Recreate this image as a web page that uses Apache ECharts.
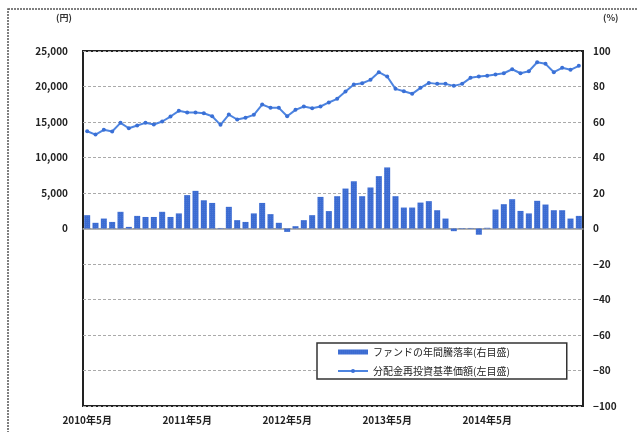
<!DOCTYPE html>
<html>
<head>
<meta charset="utf-8">
<script src="https://cdn.jsdelivr.net/npm/echarts@6/dist/echarts.min.js"></script>
<style>
html, body { margin: 0; padding: 0; background: #fff; }
#chart { width: 637px; height: 432px; }
</style>
</head>
<body>
<div id="chart"></div>
<script>
// 2010年5月 ～ 2015年4月 (60ヶ月)
const months = [];
for (let i = 0; i < 60; i++) {
    const m = 4 + i;
    months.push(`${2010 + Math.floor(m / 12)}年${(m % 12) + 1}月`);
}

// 分配金再投資基準価額 (円, 左目盛)
const nav = [
    13700, 13230, 13900, 13660, 14880, 14120, 14500, 14880, 14640, 15070,
    15770, 16570, 16330, 16330, 16230, 15810, 14600, 16050, 15350, 15590,
    16010, 17460, 16990, 16990, 15810, 16710, 17180, 16940, 17180, 17750,
    18260, 19290, 20280, 20460, 20940, 22010, 21400, 19670, 19330, 18970,
    19810, 20510, 20370, 20370, 20090, 20370, 21220, 21400, 21500, 21680,
    21870, 22430, 21870, 22150, 23420, 23190, 22010, 22630, 22350, 22910
];

// ファンドの年間騰落率 (%, 右目盛)
const annualReturn = [
    7.5, 3.2, 5.6, 3.7, 9.4, 0.9, 7.1, 6.5, 6.5, 9.4,
    6.5, 8.5, 18.8, 21.2, 15.9, 14.4, 0.3, 12.2, 4.7, 3.7,
    8.5, 14.4, 8.1, 3.2, -1.9, 1.3, 4.7, 7.5, 17.8, 9.8,
    18.2, 22.5, 26.6, 18.2, 23.1, 29.5, 34.4, 18.2, 11.8, 11.8,
    14.6, 15.4, 10.3, 5.6, -1.5, -0.3, 0.3, -3.5, 0.4, 10.7,
    13.7, 16.5, 9.9, 8.5, 15.6, 13.5, 10.3, 10.3, 5.6, 7.1
];

const barName = "ファンドの年間騰落率(右目盛)";
const lineName = "分配金再投資基準価額(左目盛)";

const font = "'Noto Sans CJK JP', 'Noto Sans', sans-serif";

let chart = echarts.init(document.getElementById("chart"));
chart.setOption({
    animation: false,
    textStyle: { fontFamily: font },
    grid: {
        left: 83,
        right: 54,
        top: 51,
        bottom: 26,
        show: true,
        borderColor: "#222",
        borderWidth: 2,
        backgroundColor: "#fff",
        z: 0,
    },
    graphic: [
        {
            type: "rect",
            shape: { x: 8, y: 9, width: 650, height: 450 },
            style: { fill: "none", stroke: "#555", lineWidth: 1.5, lineDash: [2, 1] },
            silent: true,
        },
        {
            type: "text",
            left: 56,
            top: 13,
            style: { text: "(円)", fontSize: 9, fontWeight: "bold", fontFamily: font, fill: "#333" },
        },
        {
            type: "text",
            left: 603,
            top: 13,
            style: { text: "(%)", fontSize: 9, fontWeight: "bold", fontFamily: font, fill: "#333" },
        },
    ],
    legend: {
        orient: "vertical",
        left: 317,
        top: 343,
        padding: [4, 57, 3, 20],
        itemGap: 9,
        itemWidth: 30,
        itemHeight: 5,
        backgroundColor: "#fff",
        borderColor: "#333",
        borderWidth: 1.5,
        textStyle: { fontSize: 10, color: "#222", fontFamily: font },
        data: [
            { name: barName, icon: "rect" },
            { name: lineName },
        ],
    },
    xAxis: {
        type: "category",
        data: months,
        boundaryGap: true,
        axisLine: { show: true, onZero: true, lineStyle: { color: "#999", width: 1.5 } },
        axisTick: { show: false },
        axisLabel: {
            interval: 11,
            margin: 9,
            fontSize: 10,
            color: "#222",
            fontWeight: "bold",
        },
        splitLine: { show: false },
    },
    yAxis: [
        {
            type: "value",
            min: -25000,
            max: 25000,
            interval: 5000,
            axisLine: { show: false },
            axisTick: { show: false },
            axisLabel: {
                margin: 15,
                fontSize: 10,
                fontWeight: "bold",
                color: "#222",
                formatter: (v) => (v >= 0 ? v.toLocaleString("en-US") : ""),
            },
            splitLine: { show: false },
        },
        {
            type: "value",
            min: -100,
            max: 100,
            interval: 20,
            axisLine: { show: false },
            axisTick: { show: false },
            axisLabel: {
                margin: 10,
                fontSize: 10,
                fontWeight: "bold",
                color: "#222",
                formatter: (v) => (v < 0 ? "−" + Math.abs(v) : "" + v),
            },
            splitLine: {
                show: true,
                lineStyle: { color: "#aaa", type: [3, 2], width: 1 },
            },
        },
    ],
    series: [
        {
            name: barName,
            type: "bar",
            yAxisIndex: 1,
            data: annualReturn,
            barWidth: "72%",
            itemStyle: {
                color: "#3b6bd2",
                decal: {
                    symbol: "rect",
                    symbolSize: 0.6,
                    dashArrayX: [1, 1],
                    dashArrayY: [1, 1],
                    color: "rgba(255,255,255,0.25)",
                },
            },
        },
        {
            name: lineName,
            type: "line",
            yAxisIndex: 0,
            data: nav,
            symbol: "circle",
            symbolSize: 4,
            showSymbol: true,
            lineStyle: { color: "#4d84e0", width: 2 },
            itemStyle: { color: "#3a70d6" },
        },
    ],
});
</script>
</body>
</html>
